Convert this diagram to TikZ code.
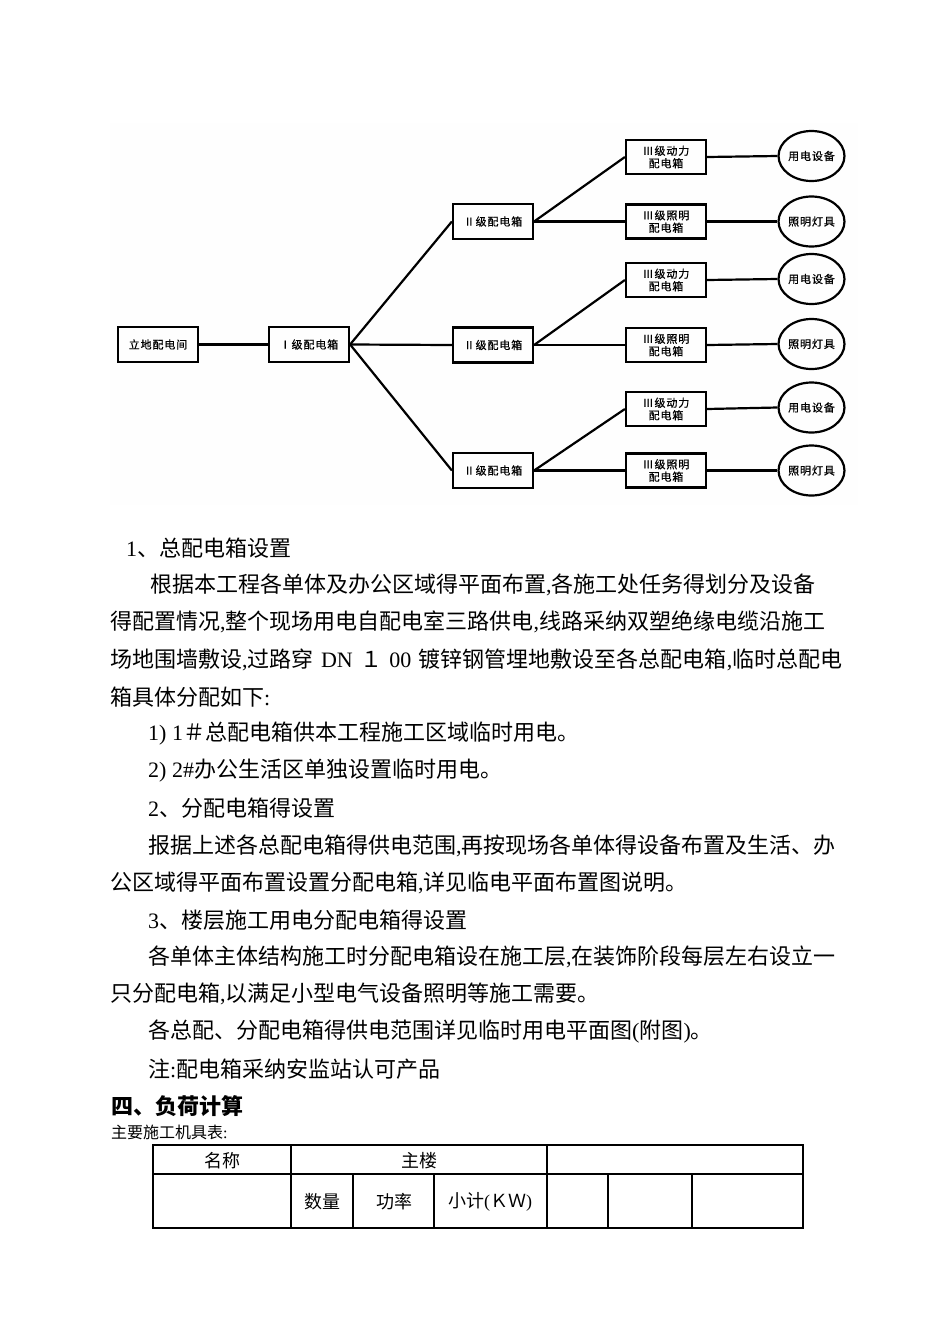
\documentclass[tikz,border=0pt]{standalone}
\usepackage{fontspec}
\setmainfont{Liberation Serif}
\newfontfamily\cjk{Noto Sans CJK SC}
\newfontfamily\cjkd{Noto Sans CJK SC}[FakeBold=0.6,LetterSpace=8]
\newcommand\latn[1]{{\rmfamily #1}}
\newcommand\dfont{\cjkd\fontsize{11}{12.5}\selectfont}
\newcommand\bfont{\cjk\fontsize{22}{26}\selectfont}
\newcommand\js{\XeTeXlinebreaklocale "zh"\XeTeXlinebreakskip=0pt plus 4pt\parfillskip=0pt\relax}
\usetikzlibrary{shapes.geometric}
\begin{document}
\begin{tikzpicture}[x=1pt,y=-1pt,
  box/.style={draw,line width=2.2pt,minimum width=80pt,minimum height=35pt,inner sep=0pt,font=\dfont,align=center},
  oval/.style={draw,ellipse,line width=2.2pt,minimum width=63pt,minimum height=50pt,inner sep=0pt,font=\dfont},
  wire/.style={line width=2.2pt},
  body/.style={anchor=west,inner sep=0pt,font=\bfont},
  tline/.style={line width=1.6pt},
  tcell/.style={inner sep=0pt,font=\cjk\fontsize{18}{20}\selectfont}]
\useasboundingbox (0,0) rectangle (950,1344);
\fill[black!0.5] (110,123) rectangle (858,505);
% diagram
\node[box] (src) at (158,344.5) {立地配电间};
\node[box] (m1) at (309,344.5) {Ⅰ级配电箱};
\node[box] (s1) at (493,221.5) {Ⅱ级配电箱};
\node[box] (s2) at (493,345) {Ⅱ级配电箱};
\node[box] (s3) at (493,470.5) {Ⅱ级配电箱};
\node[box,minimum height=34pt] (p1) at (666,157) {Ⅲ级动力\\配电箱};
\node[box,minimum height=34pt] (l1) at (666,221.5) {Ⅲ级照明\\配电箱};
\node[box,minimum height=34pt] (p2) at (666,280) {Ⅲ级动力\\配电箱};
\node[box,minimum height=34pt] (l2) at (666,345) {Ⅲ级照明\\配电箱};
\node[box,minimum height=34pt] (p3) at (666,409) {Ⅲ级动力\\配电箱};
\node[box,minimum height=34pt] (l3) at (666,470.5) {Ⅲ级照明\\配电箱};
\node[oval] (ep1) at (811.5,156) {用电设备};
\node[oval] (el1) at (811.5,221.5) {照明灯具};
\node[oval] (ep2) at (811.5,279) {用电设备};
\node[oval] (el2) at (811.5,344) {照明灯具};
\node[oval] (ep3) at (811.5,407.5) {用电设备};
\node[oval] (el3) at (811.5,470.5) {照明灯具};
\draw[wire] (src.east) -- (m1.west);
\foreach \i in {1,2,3}{
  \draw[wire] (m1.east) -- (s\i.west);
  \draw[wire] (s\i.east) -- (p\i.west);
  \draw[wire] (s\i.east) -- (l\i.west);
  \draw[wire] (p\i.east) -- (ep\i.west);
  \draw[wire] (l\i.east) -- (el\i.west);
}
% body text
\node[body] (t1) at (126,548) {\latn{1}、总配电箱设置};
\node[body,text width=698pt] (t2) at (150,585) {\js 根据本工程各单体及办公区域得平面布置\latn{,}各施工处任务得划分及设备};
\node[body,text width=738pt] (t3) at (110,622) {\js 得配置情况\latn{,}整个现场用电自配电室三路供电\latn{,}线路采纳双塑绝缘电缆沿施工};
\node[body,text width=738pt] (t4) at (110,660) {\js 场地围墙敷设\latn{,}过路穿\latn{ DN }１\latn{ 00 }镀锌钢管埋地敷设至各总配电箱\latn{,}临时总配电};
\node[body] (t5) at (110,697) {箱具体分配如下\latn{:}};
\node[body] (t6) at (148,734) {\latn{1) 1}＃总配电箱供本工程施工区域临时用电。};
\node[body] (t7) at (148,771) {\latn{2) 2\#}办公生活区单独设置临时用电。};
\node[body] (t8) at (148,808) {\latn{2}、分配电箱得设置};
\node[body,text width=700pt] (t9) at (148,846) {\js 报据上述各总配电箱得供电范围\latn{,}再按现场各单体得设备布置及生活、办};
\node[body] (t10) at (110,883) {公区域得平面布置设置分配电箱\latn{,}详见临电平面布置图说明。};
\node[body] (t11) at (148,920) {\latn{3}、楼层施工用电分配电箱得设置};
\node[body,text width=700pt] (t12) at (148,957) {\js 各单体主体结构施工时分配电箱设在施工层\latn{,}在装饰阶段每层左右设立一};
\node[body] (t13) at (110,994) {只分配电箱\latn{,}以满足小型电气设备照明等施工需要。};
\node[body] (t14) at (148,1032) {各总配、分配电箱得供电范围详见临时用电平面图\latn{(}附图\latn{)}。};
\node[body] (t15) at (148,1069) {注\latn{:}配电箱采纳安监站认可产品};
\node[body,font=\cjk\bfseries\fontsize{22}{26}\selectfont] (h4) at (111,1106) {四、负荷计算};
\node[body,font=\cjk\fontsize{16}{18}\selectfont] (sub) at (111,1132) {主要施工机具表\latn{:}};
% table
\draw[tline] (153,1145) rectangle (803,1228);
\draw[tline] (153,1174) -- (803,1174);
\draw[tline] (291,1145) -- (291,1228);
\draw[tline] (547,1145) -- (547,1228);
\draw[tline] (353,1174) -- (353,1228);
\draw[tline] (434,1174) -- (434,1228);
\draw[tline] (608,1174) -- (608,1228);
\draw[tline] (692,1174) -- (692,1228);
\node[tcell] (c1) at (222,1161) {名称};
\node[tcell] (c2) at (419,1161) {主楼};
\node[tcell] (c3) at (322,1202) {数量};
\node[tcell] (c4) at (394,1202) {功率};
\node[tcell] (c5) at (490,1202) {小计\latn{(}ＫＷ\latn{)}};
\end{tikzpicture}
\end{document}
